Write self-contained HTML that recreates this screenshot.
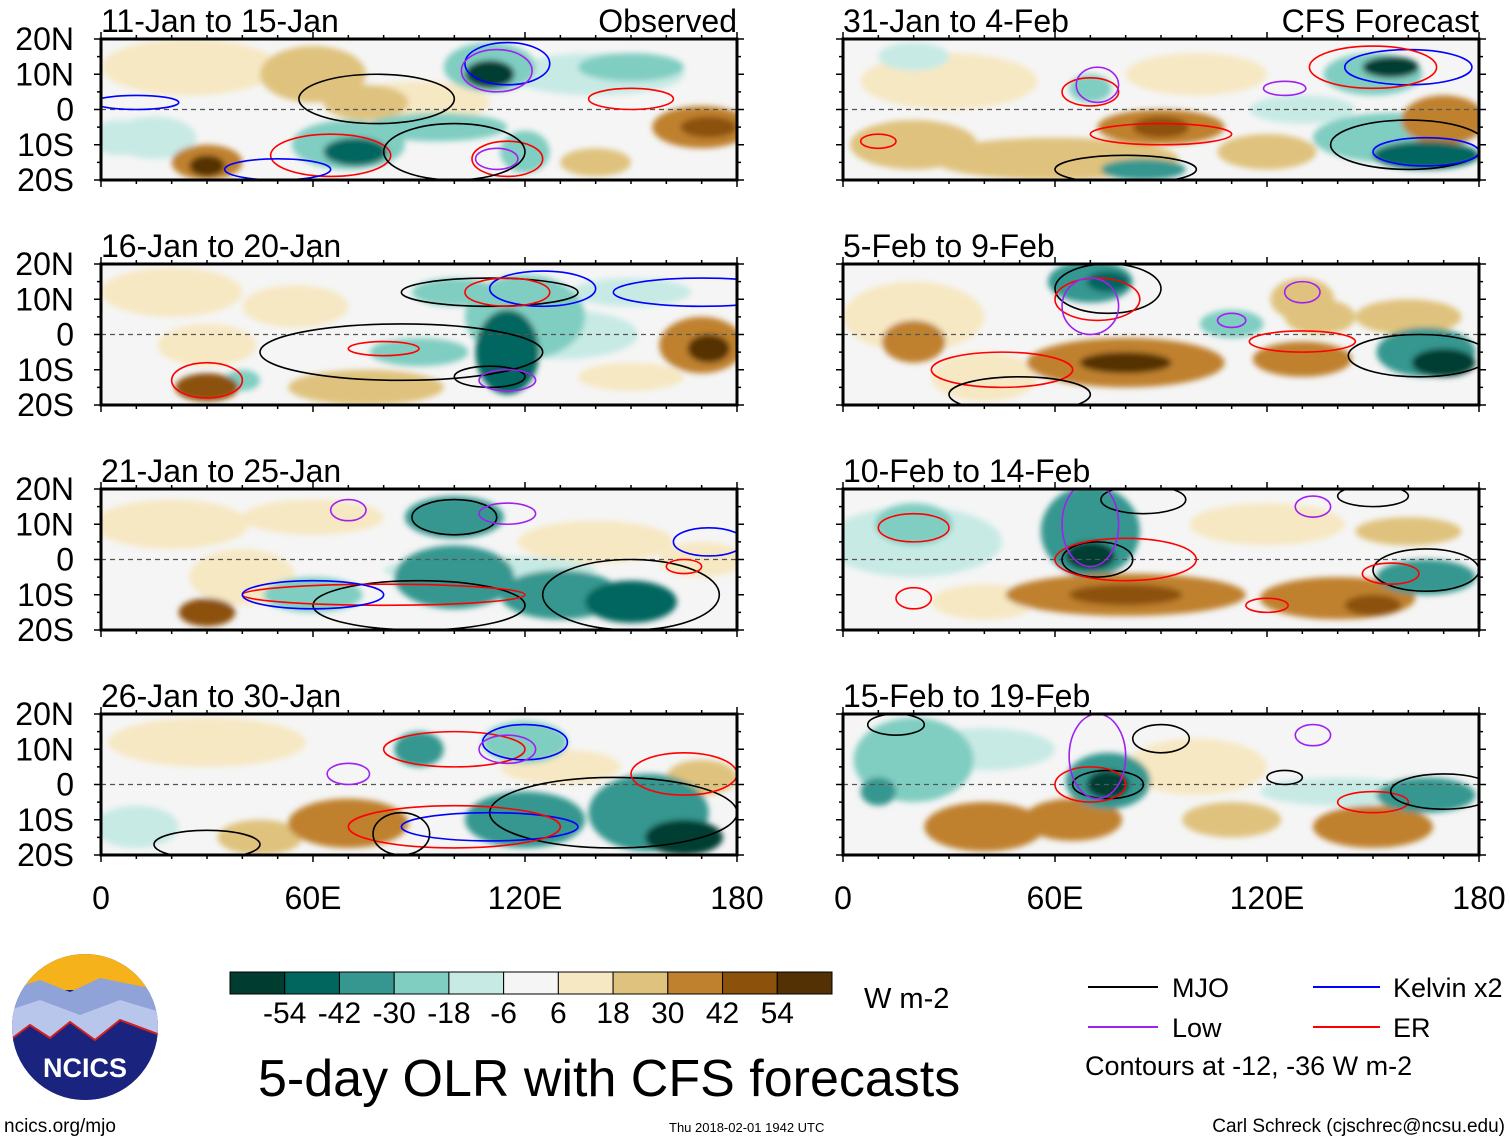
<!DOCTYPE html>
<html><head><meta charset="utf-8"><style>
body{margin:0;background:#fff;width:1510px;height:1142px;overflow:hidden;font-family:"Liberation Sans",sans-serif}
svg text{font-family:"Liberation Sans",sans-serif}
</style></head><body>
<svg id="root" width="1510" height="1142" xmlns="http://www.w3.org/2000/svg">
<defs><filter id="bl" x="-20%" y="-20%" width="140%" height="140%"><feGaussianBlur stdDeviation="3"/></filter>
<clipPath id="clipL"><rect x="0" y="0" width="636" height="141"/></clipPath></defs>
<g id="panels"></g>
<g id="cbar"></g>
<text x="864" y="1008" font-size="29">W m-2</text>
<text x="258" y="1096" font-size="52">5-day OLR with CFS forecasts</text>
<g>
<line x1="1088" y1="987" x2="1158" y2="987" stroke="#000" stroke-width="2"/><text x="1172" y="997" font-size="27">MJO</text>
<line x1="1088" y1="1027" x2="1158" y2="1027" stroke="#a020f0" stroke-width="2"/><text x="1172" y="1037" font-size="27">Low</text>
<line x1="1313" y1="987" x2="1380" y2="987" stroke="#0000ff" stroke-width="2"/><text x="1393" y="997" font-size="27">Kelvin x2</text>
<line x1="1313" y1="1027" x2="1380" y2="1027" stroke="#ff0000" stroke-width="2"/><text x="1393" y="1037" font-size="27">ER</text>
<text x="1085" y="1075" font-size="27">Contours at -12, -36 W m-2</text>
</g>
<g>
<clipPath id="lc"><circle cx="85" cy="1027" r="73"/></clipPath>
<g clip-path="url(#lc)">
<rect x="10" y="950" width="150" height="160" fill="#1a237e"/>
<rect x="10" y="950" width="150" height="40" fill="#f6b21a"/>
<path d="M10 990 L40 980 L70 992 L100 978 L160 990 L160 1030 L10 1030Z" fill="#8fa3d8"/>
<path d="M10 1010 L40 1000 L80 1015 L120 1000 L160 1012 L160 1045 L10 1045Z" fill="#b9c6ec"/>
<path d="M10 1040 L30 1025 L50 1038 L70 1022 L95 1040 L120 1020 L160 1035 L160 1110 L10 1110Z" fill="#1a237e" stroke="#d02020" stroke-width="2"/>
</g>
<text x="85" y="1077" font-size="27" font-weight="bold" fill="#fff" text-anchor="middle">NCICS</text>
</g>
<text x="4" y="1132" font-size="19">ncics.org/mjo</text>
<text x="669" y="1132" font-size="13">Thu 2018-02-01 1942 UTC</text>
<text x="1505" y="1132" font-size="19" text-anchor="end">Carl Schreck (cjschrec@ncsu.edu)</text>
</svg>
<script>
const panelTitles=["11-Jan to 15-Jan","31-Jan to 4-Feb","16-Jan to 20-Jan","5-Feb to 9-Feb","21-Jan to 25-Jan","10-Feb to 14-Feb","26-Jan to 30-Jan","15-Feb to 19-Feb"];
const latTicks=["20N","10N","0","10S","20S"];
const lonTicks=["0","60E","120E","180"];
const cbarLevels=[-54,-42,-30,-18,-6,6,18,30,42,54];
const cbarColors=["#003c30","#01665e","#35978f","#80cdc1","#c7eae5","#f5f5f5","#f6e8c3","#dfc27d","#bf812d","#8c510a","#543005"];
// OLR anomaly blobs: [lon, lat, rxDeg, ryDeg, value]
const olr0=[[25,12,25,8,10],[60,10,15,8,20],[90,2,20,6,10],[15,-8,12,6,-10],[140,10,25,6,-10],[75,2,12,5,20],[30,-15,10,5,35],[30,-16,5,3,58],[70,-10,16,7,-25],[72,-12,9,4,-48],[110,12,13,7,-30],[110,10,7,4,-56],[95,-5,20,4,-28],[150,12,15,4,-20],[170,-5,14,6,32],[172,-5,8,3,46],[140,-15,10,4,20],[5,-8,8,5,-12],[120,-12,7,6,-24]];
const olr1=[[20,-10,18,7,25],[60,-14,35,6,28],[90,-5,18,5,40],[90,-5,8,3,50],[120,-12,14,5,28],[170,-3,12,7,40],[30,8,25,8,10],[100,10,20,6,12],[70,6,6,4,-30],[150,10,14,6,-30],[155,12,8,3,-56],[155,-8,22,7,-25],[165,-13,15,4,-50],[85,-17,12,3,-40],[20,15,10,4,-18],[130,0,15,4,-10]];
const olr2=[[20,12,20,7,12],[55,8,15,6,15],[30,-3,14,6,14],[30,-15,9,4,44],[40,-13,5,3,-30],[120,5,17,12,-30],[115,-5,9,12,-45],[130,0,22,7,-18],[100,12,12,4,-25],[170,-3,12,8,40],[172,-4,6,4,56],[90,-5,14,4,-24],[75,-15,22,5,18],[150,12,17,4,-18],[150,-12,15,4,12]];
const olr3=[[20,5,20,10,12],[40,-12,15,7,15],[70,15,12,6,-40],[75,15,6,3,-50],[80,-8,28,7,38],[80,-8,13,3,55],[130,-7,14,5,38],[135,5,10,5,20],[165,-5,14,7,-38],[170,-8,9,4,-56],[20,-2,9,6,30],[110,3,9,4,-20],[130,10,9,6,25],[160,5,15,5,18]];
const olr4=[[20,10,22,7,12],[60,12,20,5,10],[40,-5,15,8,10],[30,-15,8,4,50],[100,12,14,6,-40],[100,-5,17,9,-38],[130,-10,17,7,-40],[150,-12,13,6,-50],[60,-10,14,5,-20],[140,5,22,6,14],[170,0,12,5,10],[110,-3,30,4,-15]];
const olr5=[[20,5,25,10,-10],[70,8,14,13,-38],[70,1,7,4,-56],[80,-10,34,6,38],[80,-10,16,3,50],[140,-11,22,6,32],[150,-13,8,3,45],[165,-5,14,5,-42],[20,10,11,6,-22],[120,10,22,6,12],[160,8,15,4,20],[40,-12,15,5,15]];
const olr6=[[30,12,28,7,12],[70,-11,17,7,30],[45,-15,12,5,22],[90,10,7,5,-40],[120,12,12,6,-30],[120,-10,17,8,-33],[155,-8,17,11,-42],[165,-15,11,5,-56],[130,5,17,5,12],[10,-12,12,6,-10],[170,2,10,5,25]];
const olr7=[[75,1,12,8,-42],[75,0,6,4,-56],[20,7,17,12,-22],[10,-2,5,4,-38],[40,-12,17,7,30],[65,-10,14,6,35],[110,-10,14,5,25],[150,-12,17,6,34],[165,-3,14,5,-38],[140,-2,22,4,-15],[100,5,20,8,10],[40,10,20,6,-10]];
const olrSets=[olr0,olr1,olr2,olr3,olr4,olr5,olr6,olr7];
// contour ellipses: [lon, lat, rxDeg, ryDeg, type]
const cnt0=[[78,3,22,7,'k'],[65,-13,17,6,'r'],[50,-17,15,3,'b'],[10,2,12,2,'b'],[115,13,12,6,'b'],[112,11,10,6,'p'],[150,3,12,3,'r'],[115,-14,10,5,'r'],[112,-14,6,3,'p'],[100,-12,20,8,'k']];
const cnt1=[[70,5,8,4,'r'],[72,7,6,5,'p'],[160,12,18,5,'b'],[150,12,18,6,'r'],[160,-10,22,7,'k'],[165,-12,15,4,'b'],[90,-7,20,3,'r'],[80,-17,20,4,'k'],[10,-9,5,2,'r'],[125,6,6,2,'p']];
const cnt2=[[85,-5,40,8,'k'],[110,12,25,4,'k'],[170,12,25,4,'b'],[125,13,15,5,'b'],[115,12,12,4,'r'],[80,-4,10,2,'r'],[30,-13,10,5,'r'],[110,-12,10,3,'k'],[115,-13,8,3,'p']];
const cnt3=[[75,13,15,7,'k'],[72,10,12,6,'r'],[70,8,8,8,'p'],[163,-6,20,6,'k'],[45,-10,20,5,'r'],[50,-17,20,5,'k'],[130,-2,15,3,'r'],[110,4,4,2,'p'],[130,12,5,3,'p']];
const cnt4=[[100,12,12,5,'k'],[115,13,8,3,'p'],[90,-13,30,7,'k'],[150,-10,25,10,'k'],[80,-10,40,3,'r'],[60,-10,20,4,'b'],[70,14,5,3,'p'],[165,-2,5,2,'r'],[172,5,10,4,'b']];
const cnt5=[[72,0,10,5,'k'],[80,0,20,6,'r'],[85,17,12,4,'k'],[70,10,8,12,'p'],[20,9,10,4,'r'],[20,-11,5,3,'r'],[165,-3,15,6,'k'],[155,-4,8,3,'r'],[120,-13,6,2,'r'],[150,18,10,3,'k'],[133,15,5,3,'p']];
const cnt6=[[100,10,20,5,'r'],[120,12,12,5,'b'],[115,10,8,4,'p'],[70,3,6,3,'p'],[145,-8,35,10,'k'],[110,-12,25,4,'b'],[100,-12,30,6,'r'],[165,3,15,6,'r'],[30,-17,15,4,'k'],[85,-14,8,6,'k']];
const cnt7=[[75,0,10,4,'k'],[70,0,10,5,'r'],[72,8,8,12,'p'],[90,13,8,4,'k'],[150,-5,10,3,'r'],[170,-2,15,5,'k'],[125,2,5,2,'k'],[133,14,5,3,'p'],[15,17,8,3,'k']];
const cntSets=[cnt0,cnt1,cnt2,cnt3,cnt4,cnt5,cnt6,cnt7];

const NS='http://www.w3.org/2000/svg';
const cmap={k:'#000',r:'#ff0000',b:'#0000ff',p:'#a020f0'};
const PW=636,PH=141;
function mk(t,a,p){const e=document.createElementNS(NS,t);for(const k in a)e.setAttribute(k,a[k]);p.appendChild(e);return e;}
function xs(lon){return lon/180*PW;}
function ys(lat){return (20-lat)/40*PH;}
function colorOf(v){let i=0;while(i<cbarLevels.length&&v>=cbarLevels[i])i++;return cbarColors[i];}
const panelsG=document.getElementById('panels');
for(let p=0;p<8;p++){
  const col=p%2,row=Math.floor(p/2);
  const x0=col?843:101,y0=39+row*225;
  const g=mk('g',{transform:`translate(${x0},${y0})`},panelsG);
  
  
  const t=mk('text',{x:0,y:-7,'font-size':32},g);t.textContent=panelTitles[p];
  
  
  if(p<2){const s=mk('text',{x:PW,y:-7,'font-size':32,'text-anchor':'end'},g);s.textContent=p==0?'Observed':'CFS Forecast';
    
    }
  const inner=mk('g',{'clip-path':'url(#clipL)'},g);
  mk('rect',{x:0,y:0,width:PW,height:PH,fill:'#f5f5f5'},inner);
  const fg=mk('g',{filter:'url(#bl)'},inner);
  const blobs=olrSets[p].slice().sort((a,b)=>Math.abs(a[4])-Math.abs(b[4]));
  blobs.forEach(b=>{const e=mk('ellipse',{cx:xs(b[0]),cy:ys(b[1]),rx:xs(b[2]),ry:b[3]/40*PH,fill:colorOf(b[4])},fg);
    
    });
  mk('line',{x1:0,y1:ys(0),x2:PW,y2:ys(0),stroke:'#555','stroke-dasharray':'5,4','stroke-width':1.2},inner);
  cntSets[p].forEach(c=>{const e=mk('ellipse',{cx:xs(c[0]),cy:ys(c[1]),rx:xs(c[2]),ry:c[3]/40*PH,fill:'none',stroke:cmap[c[4]],'stroke-width':1.6},inner);
    
    });
  mk('rect',{x:0,y:0,width:PW,height:PH,fill:'none',stroke:'#000','stroke-width':3},g);
  for(let l=0;l<=180;l+=10){const x=xs(l),L=l%60==0?7:4;mk('line',{x1:x,y1:0,x2:x,y2:-L,stroke:'#000','stroke-width':1.5},g);mk('line',{x1:x,y1:PH,x2:x,y2:PH+L,stroke:'#000','stroke-width':1.5},g);}
  for(let la=-20;la<=20;la+=5){const y=ys(la),L=la%10==0?7:4;mk('line',{x1:0,y1:y,x2:-L,y2:y,stroke:'#000','stroke-width':1.5},g);mk('line',{x1:PW,y1:y,x2:PW+L,y2:y,stroke:'#000','stroke-width':1.5},g);}
  if(col==0){latTicks.forEach((s,i)=>{const tt=mk('text',{x:-27,y:ys(20-i*10)+11,'font-size':32,'text-anchor':'end'},g);tt.textContent=s;
    
    });}
  if(row==3){lonTicks.forEach((s,i)=>{const tt=mk('text',{x:xs(i*60),y:PH+54,'font-size':32,'text-anchor':'middle'},g);tt.textContent=s;
    
    });}
}
const cb=document.getElementById('cbar');
const bw=602/11;
cbarColors.forEach((c,i)=>{const r=mk('rect',{x:230+i*bw,y:972,width:bw,height:22,fill:c,stroke:'#000','stroke-width':1},cb);
  
  });
cbarLevels.forEach((v,i)=>{const t=mk('text',{x:230+(i+1)*bw,y:1023,'font-size':30,'text-anchor':'middle'},cb);t.textContent=v;
  
  });
</script>
</body></html>
